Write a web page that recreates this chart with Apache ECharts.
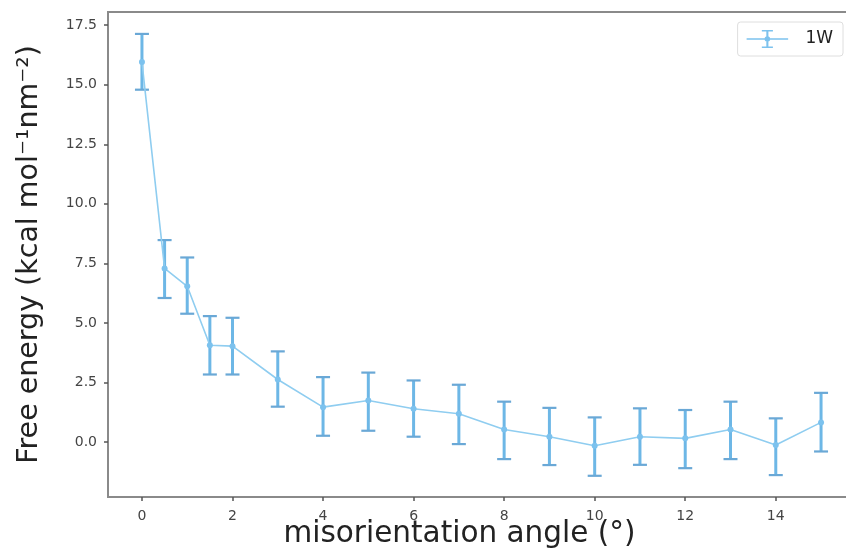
<!DOCTYPE html>
<html>
<head>
<meta charset="utf-8">
<script src="https://cdn.jsdelivr.net/npm/echarts@6/dist/echarts.min.js"></script>
<style>html,body{margin:0;padding:0;background:#fff}#c{width:846px;height:556px}</style>
</head>
<body>
<div id="c"></div>
<script>
const seriesName = '1W';
const angles = [0, 0.5, 1, 1.5, 2, 3, 4, 5, 6, 7, 8, 9, 10, 11, 12, 13, 14, 15];
const energy = [15.95, 7.29, 6.54, 4.07, 4.03, 2.63, 1.47, 1.75, 1.40, 1.19, 0.53, 0.23, -0.15, 0.23, 0.16, 0.53, -0.12, 0.83];
const errUpper = [17.13, 8.48, 7.75, 5.29, 5.22, 3.81, 2.73, 2.92, 2.59, 2.41, 1.70, 1.44, 1.04, 1.42, 1.35, 1.70, 1.00, 2.07];
const errLower = [14.79, 6.05, 5.39, 2.84, 2.84, 1.49, 0.27, 0.48, 0.23, -0.08, -0.71, -0.96, -1.41, -0.95, -1.09, -0.71, -1.38, -0.39];
const xTicks = [0, 2, 4, 6, 8, 10, 12, 14];
const yTicks = [0, 2.5, 5, 7.5, 10, 12.5, 15, 17.5];
const xTitle = 'misorientation angle (°)';
const yTitle = 'Free energy (kcal mol⁻¹nm⁻²)';

const FONT = 'DejaVu Sans';
const lineColor = '#8fcdf0';
const barColor = '#6db7e6';

const lineData = angles.map((a, i) => [a, energy[i]]);
const errData = angles.map((a, i) => [a, errLower[i], errUpper[i]]);

const chart = echarts.init(document.getElementById('c'), null, {renderer: 'canvas'});
chart.setOption({
  animation: false,
  backgroundColor: '#fff',
  grid: {left: 108, top: 12, width: 747, height: 485, outerBoundsMode: 'none', containLabel: false,
    show: true, borderColor: '#8a8a8a', borderWidth: 2, backgroundColor: 'transparent'},
  legend: {
    data: [seriesName],
    right: 3, top: 22,
    backgroundColor: '#fff',
    borderColor: '#dedede', borderWidth: 1, borderRadius: 3,
    padding: [8, 10, 8, 9],
    itemWidth: 42, itemHeight: 18,
    icon: 'path://M0,12H60V14H0Z M28.5,0H31.5V26H28.5Z M22,0H38V2H22Z M22,24H38V26H22Z M26,13a4,4 0 1,1 8,0a4,4 0 1,1 -8,0Z',
    textStyle: {fontFamily: FONT, fontSize: 17, color: '#222', padding: [0, 0, 0, 12]}
  },
  xAxis: {
    type: 'value', min: -0.75, max: 15.75,
    name: xTitle, nameLocation: 'middle', nameGap: 22, nameMoveOverlap: false,
    nameTextStyle: {fontFamily: FONT, fontSize: 29.5, color: '#222', padding: [0, 44, 0, 0]},
    axisLine: {show: true, onZero: false, lineStyle: {color: '#8a8a8a', width: 2}},
    axisTick: {show: true, inside: false, length: 4, lineStyle: {color: '#555', width: 1.5}, customValues: xTicks},
    axisLabel: {fontFamily: FONT, fontSize: 14, color: '#444', margin: 12, customValues: xTicks, formatter: v => String(v)},
    splitLine: {show: false}
  },
  yAxis: {
    type: 'value', min: -2.3, max: 18.05,
    name: yTitle, nameLocation: 'middle', nameGap: 64, nameMoveOverlap: false,
    nameTextStyle: {fontFamily: FONT, fontSize: 28.5, color: '#222'},
    axisLine: {show: true, onZero: false, lineStyle: {color: '#8a8a8a', width: 2}},
    axisTick: {show: true, inside: false, length: 4, lineStyle: {color: '#555', width: 1.5}, customValues: yTicks},
    axisLabel: {fontFamily: FONT, fontSize: 14, color: '#444', margin: 11, customValues: yTicks, formatter: v => v.toFixed(1)},
    splitLine: {show: false}
  },
  series: [
    {
      name: seriesName,
      type: 'line',
      data: lineData,
      z: 4,
      symbol: 'circle', symbolSize: 6,
      lineStyle: {color: lineColor, width: 1.6},
      itemStyle: {color: '#7cc2ee'}
    },
    {
      name: seriesName + ' err',
      type: 'custom',
      data: errData,
      encode: {x: 0, y: [1, 2]},
      z: 3,
      renderItem: function (params, api) {
        const x = api.value(0);
        const lo = api.coord([x, api.value(1)]);
        const hi = api.coord([x, api.value(2)]);
        const hw = 7;
        return {
          type: 'group',
          children: [
            {type: 'line', shape: {x1: lo[0], y1: lo[1], x2: hi[0], y2: hi[1]}, style: {stroke: barColor, lineWidth: 3}},
            {type: 'line', shape: {x1: lo[0] - hw, y1: lo[1], x2: lo[0] + hw, y2: lo[1]}, style: {stroke: '#6aa8d6', lineWidth: 2.2}},
            {type: 'line', shape: {x1: hi[0] - hw, y1: hi[1], x2: hi[0] + hw, y2: hi[1]}, style: {stroke: '#6aa8d6', lineWidth: 2.2}}
          ]
        };
      }
    }
  ]
});
</script>
</body>
</html>
